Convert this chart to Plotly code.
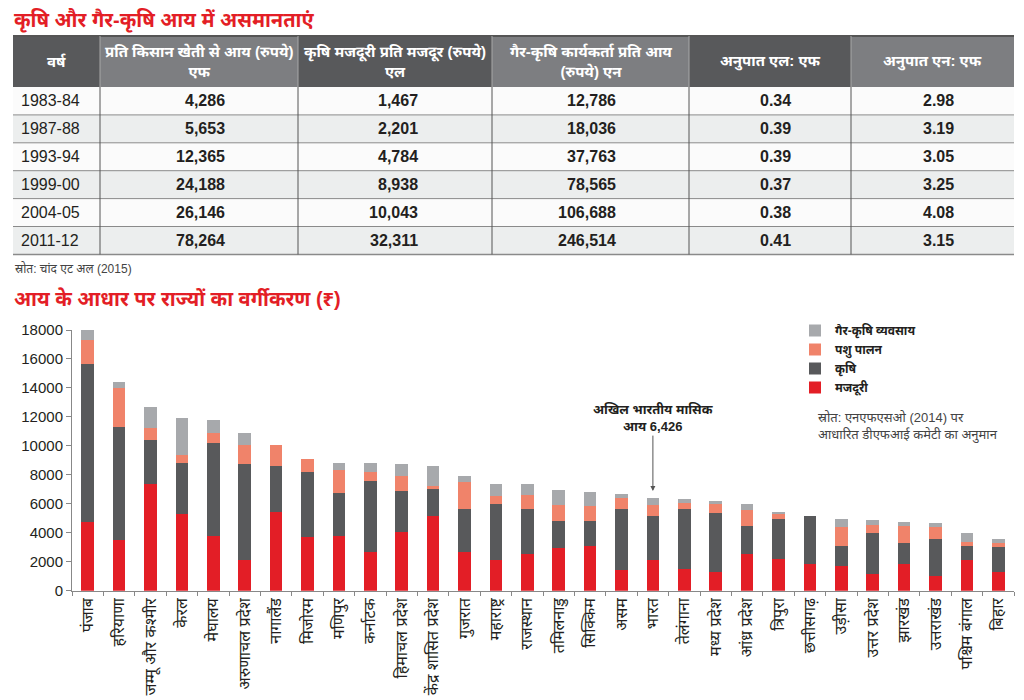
import plotly.graph_objects as go

# ---------------- table data ----------------
years = ["1983-84", "1987-88", "1993-94", "1999-00", "2004-05", "2011-12"]
farm_income_per_farmer = [4286, 5653, 12365, 24188, 26146, 78264]
wage_per_labourer = [1467, 2201, 4784, 8938, 10043, 32311]
nonfarm_income_per_worker = [12786, 18036, 37763, 78565, 106688, 246514]
ratio_l_f = [0.34, 0.39, 0.39, 0.37, 0.38, 0.41]
ratio_n_f = [2.98, 3.19, 3.05, 3.25, 4.08, 3.15]
table_headers = [
    "वर्ष",
    "प्रति किसान खेती से आय (रुपये)<br>एफ",
    "कृषि मजदूरी प्रति मजदूर (रुपये)<br>एल",
    "गैर-कृषि कार्यकर्ता प्रति आय<br>(रुपये) एन",
    "अनुपात एल: एफ",
    "अनुपात एन: एफ",
]

# ---------------- bar chart data ----------------
states = ["पंजाब", "हरियाणा", "जम्मू और कश्मीर", "केरल", "मेघालय", "अरुणाचल प्रदेश",
          "नागालैंड", "मिजोरम", "मणिपुर", "कर्नाटक", "हिमाचल प्रदेश", "केंद्र शासित प्रदेश",
          "गुजरात", "महाराष्ट्र", "राजस्थान", "तमिलनाडु", "सिक्किम", "असम", "भारत",
          "तेलंगाना", "मध्य प्रदेश", "आंध्र प्रदेश", "त्रिपुरा", "छत्तीसगढ़", "उड़ीसा",
          "उत्तर प्रदेश", "झारखंड", "उत्तराखंड", "पश्चिम बंगाल", "बिहार"]
wages = [4770, 3500, 7340, 5270, 3800, 2090, 5410, 3680, 3800, 2690, 4030, 5180,
         2690, 2140, 2560, 2920, 3110, 1450, 2090, 1470, 1310, 2510, 2160, 1840,
         1730, 1150, 1840, 1040, 2140, 1310]
farming = [10860, 7830, 3070, 3520, 6420, 6630, 3200, 4540, 2920, 4910, 2850, 1840,
           2930, 3870, 3100, 1890, 1700, 4170, 3040, 4170, 4030, 1980, 2790, 3340,
           1380, 2830, 1430, 2550, 920, 1710]
livestock = [1680, 2690, 800, 580, 690, 1340, 1430, 870, 1580, 600, 1060, 230,
             1910, 550, 970, 1130, 1020, 780, 790, 440, 670, 1080, 320, 0,
             1310, 580, 1200, 830, 280, 290]
nonfarm = [690, 410, 1470, 2530, 880, 810, 0, 0, 540, 620, 830, 1340,
           410, 830, 740, 1040, 960, 300, 506, 230, 180, 390, 160, 0,
           530, 340, 250, 280, 620, 240]
series_names = ["मजदूरी", "कृषि", "पशु पालन", "गैर-कृषि व्यवसाय"]
india_monthly_income = 6426

# the page shows the figure offset by the default 8px body margin,
# so the figure is made 8px smaller and all layout pixels are shifted by it
OFF = 8
W, H = 1024 - OFF, 700 - OFF
FONT = "Liberation Sans, Arial, Noto Sans Devanagari, Lohit Devanagari, sans-serif"
RED = "#e31e26"
DARK = "#58595b"
MID = "#7d7e81"
SALMON = "#f0836a"
GRAY = "#a7a9ac"
TXT = "#231f20"


def px_x(p):
    return (p - OFF) / W


def px_y(p):
    return 1 - (p - OFF) / H


fig = go.Figure()
shapes = []
annotations = []

# ---------------- table (drawn with shapes + text) ----------------
TBL_LEFT = 13
col_widths = [87, 198, 194, 197, 162, 163]
col_edges = [TBL_LEFT]
for w in col_widths:
    col_edges.append(col_edges[-1] + w)
HDR_TOP, HDR_BOT = 36, 87
ROW_H = 27.9
text_right = [None, 227, 420, 618, 793, 956]   # right edge of number text per column
n_rows = len(years)

cols_text = [
    years,
    [f"{v:,}" for v in farm_income_per_farmer],
    [f"{v:,}" for v in wage_per_labourer],
    [f"{v:,}" for v in nonfarm_income_per_worker],
    [f"{v:.2f}" for v in ratio_l_f],
    [f"{v:.2f}" for v in ratio_n_f],
]


def rect(x0, y0, x1, y1, fill):
    shapes.append(dict(type="rect", xref="paper", yref="paper",
                       x0=px_x(x0), x1=px_x(x1), y0=px_y(y1), y1=px_y(y0),
                       fillcolor=fill, line=dict(width=0), layer="below"))


def hline(x0, x1, y, color, lw):
    shapes.append(dict(type="line", xref="paper", yref="paper",
                       x0=px_x(x0), x1=px_x(x1), y0=px_y(y), y1=px_y(y),
                       line=dict(color=color, width=lw)))


def vline(x, y0, y1, color, lw):
    shapes.append(dict(type="line", xref="paper", yref="paper",
                       x0=px_x(x), x1=px_x(x), y0=px_y(y0), y1=px_y(y1),
                       line=dict(color=color, width=lw)))


# header cells
for c, head in enumerate(table_headers):
    rect(col_edges[c], HDR_TOP, col_edges[c + 1], HDR_BOT, DARK if c % 2 == 0 else MID)
    annotations.append(dict(text=f"<b>{head}</b>", xref="paper", yref="paper",
                            x=px_x((col_edges[c] + col_edges[c + 1]) / 2),
                            y=px_y((HDR_TOP + HDR_BOT) / 2), xanchor="center", yanchor="middle",
                            showarrow=False, align="center",
                            font=dict(size=15, color="white")))
hline(TBL_LEFT, col_edges[-1], HDR_TOP, "#555555", 2)

# body rows
for r in range(n_rows):
    y0 = HDR_BOT + r * ROW_H
    y1 = y0 + ROW_H
    rect(TBL_LEFT, y0, col_edges[-1], y1, "#fbfbfb" if r % 2 == 0 else "#eceeee")
    ym = (y0 + y1) / 2
    for c in range(len(cols_text)):
        txt = cols_text[c][r]
        if c == 0:
            annotations.append(dict(text=txt, xref="paper", yref="paper",
                                    x=px_x(TBL_LEFT + 6), y=px_y(ym), xanchor="left",
                                    yanchor="middle", showarrow=False,
                                    font=dict(size=16, color=TXT)))
        else:
            annotations.append(dict(text=f"<b>{txt}</b>", xref="paper", yref="paper",
                                    x=px_x(text_right[c]), y=px_y(ym), xanchor="right",
                                    yanchor="middle", showarrow=False,
                                    font=dict(size=16, color=TXT)))
    hline(TBL_LEFT, col_edges[-1], y1, "#8a8a8a", 1.5 if r == n_rows - 1 else 1)

for c in range(1, len(col_widths)):
    vline(col_edges[c], HDR_TOP, HDR_BOT, "#a8a8a8", 1)
    vline(col_edges[c], HDR_BOT, HDR_BOT + n_rows * ROW_H, "#555555", 1)

# ---------------- stacked bars ----------------
for name, vals, col in zip(series_names, [wages, farming, livestock, nonfarm],
                           [RED, DARK, SALMON, GRAY]):
    fig.add_trace(go.Bar(x=states, y=vals, name=name,
                         marker=dict(color=col, line=dict(width=0))))

fig.update_layout(
    template="none",
    width=W, height=H,
    margin=dict(l=0, r=0, t=0, b=0, autoexpand=False),
    paper_bgcolor="white", plot_bgcolor="white",
    barmode="stack", bargap=0.6,
    font=dict(family=FONT, color=TXT),
    xaxis=dict(
        domain=[px_x(72), px_x(1014)],
        automargin=False,
        showline=True, linecolor="#888888", linewidth=1,
        ticks="outside", ticklen=4, tickcolor="#888888", tickson="boundaries",
        tickangle=-90, tickfont=dict(size=16, color=TXT),
        showgrid=False, zeroline=False,
    ),
    yaxis=dict(
        domain=[px_y(590.7), px_y(330)],
        automargin=False,
        range=[0, 18000],
        dtick=2000, tickformat="d",
        showline=True, linecolor="#888888", linewidth=1,
        ticks="outside", ticklen=5, tickcolor="#888888",
        tickfont=dict(size=15, color=TXT),
        showgrid=False, zeroline=False,
    ),
    legend=dict(
        x=px_x(795), y=px_y(316), xanchor="left", yanchor="top",
        traceorder="reversed",
        font=dict(size=12, color=TXT, weight="bold"),
        tracegroupgap=0,
        itemwidth=30,
        bgcolor="rgba(0,0,0,0)",
    ),
    showlegend=True,
)

annotations += [
    dict(text="<b>कृषि और गैर-कृषि आय में असमानताएं</b>", x=px_x(12), y=px_y(6),
         xref="paper", yref="paper", xanchor="left", yanchor="top", showarrow=False,
         font=dict(size=20, color=RED)),
    dict(text="स्रोत: चांद एट अल (2015)", x=px_x(13), y=px_y(259),
         xref="paper", yref="paper", xanchor="left", yanchor="top", showarrow=False,
         font=dict(size=12, color="#444444")),
    dict(text="<b>आय के आधार पर राज्यों का वर्गीकरण (₹)</b>", x=px_x(12), y=px_y(285),
         xref="paper", yref="paper", xanchor="left", yanchor="top", showarrow=False,
         font=dict(size=20, color=RED)),
    dict(text="स्रोत: एनएफएसओ (2014) पर<br>आधारित डीएफआई कमेटी का अनुमान",
         x=px_x(816), y=px_y(408), xref="paper", yref="paper", xanchor="left", yanchor="top",
         showarrow=False, align="left", font=dict(size=13, color="#444444")),
    dict(text="<b>अखिल भारतीय मासिक<br>आय 6,426</b>", x="भारत", y=india_monthly_income + 450,
         xref="x", yref="y", showarrow=True, ax=0, ay=-73, arrowhead=2, arrowsize=1,
         arrowwidth=1, arrowcolor="#555555", font=dict(size=13, color=TXT)),
]
fig.update_layout(annotations=annotations, shapes=shapes)

fig.write_html("out.html")
